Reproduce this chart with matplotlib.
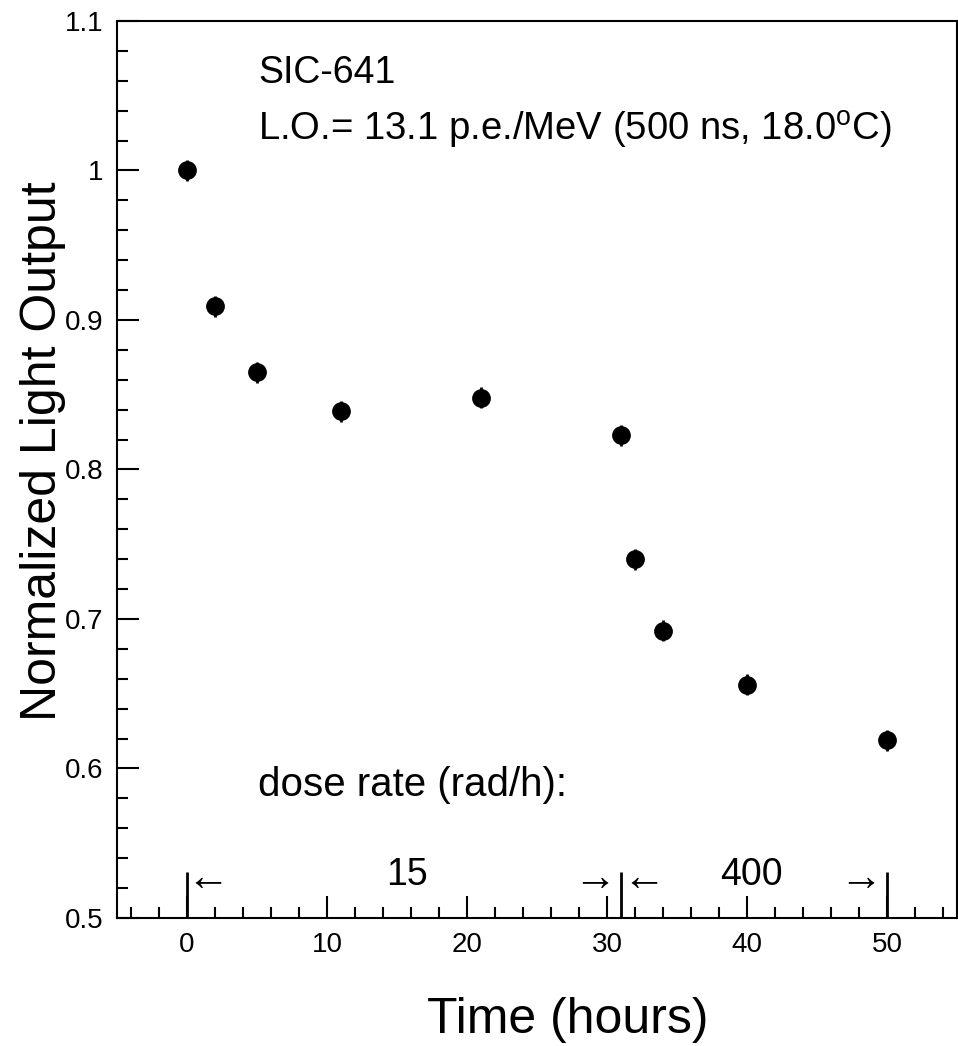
import numpy as np
import matplotlib.pyplot as plt

plt.rcParams['font.family'] = ['Liberation Sans', 'DejaVu Sans']
plt.rcParams['mathtext.fontset'] = 'custom'
plt.rcParams['mathtext.rm'] = 'Liberation Sans'

# data
time_h = [0, 2, 5, 11, 21, 31, 32, 34, 40, 50]
light = [1.000, 0.909, 0.865, 0.839, 0.848, 0.823, 0.740, 0.692, 0.656, 0.619]
err = [0.007] * len(time_h)

# dose rate periods
bounds = [0, 31, 50]
rates = ["15", "400"]
rate_x = [15.7, 40.3]

yticks = [0.5, 0.6, 0.7, 0.8, 0.9, 1.0, 1.1]
ylabels = ["0.5", "0.6", "0.7", "0.8", "0.9", "1", "1.1"]

fig = plt.figure(figsize=(9.58, 10.46), dpi=100)
ax = fig.add_axes([0.1221, 0.1224, 0.877, 0.8576])

ax.errorbar(time_h, light, yerr=err, fmt='o', color='black', ms=12.5,
            elinewidth=2, capsize=0)

ax.set_xlim(-5, 55)
ax.set_ylim(0.5, 1.1)

ax.set_xticks([0, 10, 20, 30, 40, 50])
ax.set_xticks(np.arange(-4, 55, 2), minor=True)
ax.set_yticks(yticks)
ax.set_yticklabels(ylabels)
ax.set_yticks(np.arange(0.5, 1.1, 0.02), minor=True)
ax.tick_params(which='both', direction='in', width=1.5, labelsize=20,
               top=False, right=False)
ax.tick_params(which='major', length=16, pad=10)
ax.tick_params(which='minor', length=8)
for s in ax.spines.values():
    s.set_linewidth(1.5)

ax.set_xlabel("Time (hours)", fontsize=36)
ax.set_ylabel("Normalized Light Output", fontsize=36)
ax.xaxis.set_label_coords(0.537, -0.1136)
ax.yaxis.set_label_coords(-0.088, 0.52)
ax.yaxis.label.set_va('center')
ax.xaxis.label.set_va('center')

ax.text(5.1, 1.065, "SIC-641", fontsize=27, va='center')
ax.text(5.1, 1.027, "L.O.= 13.1 p.e./MeV (500 ns, 18.0$^{\\rm o}$C)",
        fontsize=27.5, va='center')
ax.text(5.1, 0.589, "dose rate (rad/h):", fontsize=29, va='center')

ax.vlines(bounds, 0.5, 0.531, color='black', lw=2)
for x, r in zip(rate_x, rates):
    ax.text(x, 0.529, r, fontsize=27, ha='center', va='center')
ax.text(1.5, 0.526, "←", fontsize=31, ha='center', va='center')
ax.text(29.1, 0.526, "→", fontsize=31, ha='center', va='center')
ax.text(32.6, 0.526, "←", fontsize=31, ha='center', va='center')
ax.text(48.1, 0.526, "→", fontsize=31, ha='center', va='center')

fig.savefig("out.png", dpi=100)
